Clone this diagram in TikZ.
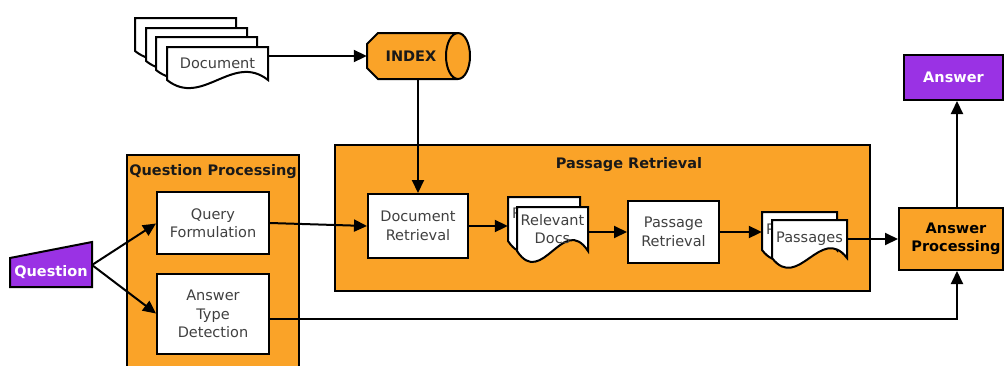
\documentclass[tikz,border=0pt]{standalone}
\usepackage{fontspec}
\setmainfont{DejaVu Sans}
\usetikzlibrary{arrows.meta,calc}
\definecolor{orng}{RGB}{250,163,40}
\definecolor{purp}{RGB}{154,50,228}
\definecolor{txt}{RGB}{64,64,64}
\tikzset{
  lw/.style={line width=2pt},
  wbox/.style={lw, draw=black, fill=white, text=txt, align=center, inner sep=0pt,
    font=\fontsize{14.5}{18.5}\selectfont},
  obox/.style={lw, draw=black, fill=orng, align=center, inner sep=0pt,
    font=\bfseries\fontsize{14.5}{17.5}\selectfont},
  title/.style={font=\bfseries\fontsize{14.5}{17}\selectfont, text=black!90, inner sep=0pt},
  dtext/.style={text=txt, align=center, inner sep=0pt, font=\fontsize{14.5}{18.5}\selectfont},
  arr/.style={lw, -{Triangle[length=13pt,width=12pt]}},
}
% document shape: name, x0, y0, width, height, wave, text shift, text
\newcommand\docsh[8]{%
  \draw[lw, fill=white] (#2,#3) -- (#2+#4,#3) -- (#2+#4,#3+#5)
    .. controls (#2+0.65*#4,#3+#5-#6) and (#2+0.35*#4,#3+#5+#6) .. (#2,#3+#5) -- cycle;
  \node[dtext, minimum width=#4 pt, minimum height=#5 pt] (#1) at (#2+0.5*#4,#3+0.5*#5+#7) {#8};
}
\begin{document}
\begin{tikzpicture}[x=1pt,y=-1pt]
\useasboundingbox (0,0) rectangle (1005,365);
\clip (0,0) rectangle (1005,365);

% document stack
\docsh{doca}{135}{18}{101}{33}{28}{0}{}
\docsh{docb}{146}{28}{101}{33}{28}{0}{}
\docsh{docc}{156}{37}{101}{33}{28}{0}{}
\docsh{doc}{167}{47}{101}{33}{28}{0}{Document}

% INDEX storage
\draw[lw, fill=orng] (378,33) -- (458,33)
  arc[start angle=-90, end angle=90, x radius=12, y radius=23]
  -- (378,79) -- (367,68) -- (367,44) -- cycle;
\draw[lw] (458,33) arc[start angle=-90, end angle=-270, x radius=12, y radius=23];
\node[minimum width=102pt, minimum height=46pt, inner sep=0pt] (idx) at (418,56) {};
\node[title] (idxlabel) at (411,56) {INDEX};

% Question Processing group
\node[obox, minimum width=172pt, minimum height=222pt] (qp) at (213,266) {};
\node[title] (qptitle) at (213,172) {Question Processing};
\node[wbox, minimum width=112pt, minimum height=62pt] (qf) at (213,223) {Query\\Formulation};
\node[wbox, minimum width=112pt, minimum height=80pt] (atd) at (213,314) {Answer\\Type\\Detection};

% Passage Retrieval group
\node[obox, minimum width=535pt, minimum height=146pt] (pr) at (602.5,218) {};
\node[title] (prtitle) at (629,165) {Passage Retrieval};
\node[wbox, minimum width=100pt, minimum height=64pt] (dr) at (418,226) {Document\\Retrieval};
\docsh{rdb}{508}{197}{72}{44}{38}{3}{Relevant\\Docs}
\docsh{rd}{517}{207}{71}{44}{38}{0}{Relevant\\Docs}
\node[wbox, minimum width=91pt, minimum height=62pt] (prb) at (673.5,232) {Passage\\Retrieval};
\docsh{psb}{762}{212}{75}{38}{34}{0}{Passages}
\docsh{ps}{772}{220}{75}{38}{34}{0}{Passages}

% Question
\draw[lw, fill=purp] (10,258) -- (92,242) -- (92,287) -- (10,287) -- cycle;
\node[title, text=white] (q) at (51,272.5) {Question};
\coordinate (qout) at (92,265);

% Answer processing and answer
\node[obox, minimum width=104pt, minimum height=62pt] (ap) at (951,239) {\hspace*{10pt}Answer\\\hspace*{10pt}Processing};
\node[obox, fill=purp, text=white, minimum width=99pt, minimum height=45pt] (ans) at (953.5,77.5) {Answer};

\coordinate (upx) at (957,0);
\coordinate (lowy) at (0,319);

% connectors
\draw[arr] (doc.east |- idx.west) -- (idx.west);
\draw[arr] (idx.south) -- (dr.north);
\draw[arr] (qout) -- ($(qf.west)+(0,0.5)$);
\draw[arr] (qout) -- ($(atd.west)+(0,-0.5)$);
\draw[arr] (qf.east) -- (dr.west);
\draw[arr] (dr.east) -- (dr.east -| rdb.west);
\draw[arr] (rd.east |- prb.west) -- (prb.west);
\draw[arr] (prb.east) -- (prb.east -| psb.west);
\draw[arr] (ps.east |- ap.west) -- (ap.west);
\draw[arr] (ap.north -| upx) -- (ans.south -| upx);
\draw[arr] (atd.east |- lowy) -| (ap.south -| upx);
\end{tikzpicture}
\end{document}
